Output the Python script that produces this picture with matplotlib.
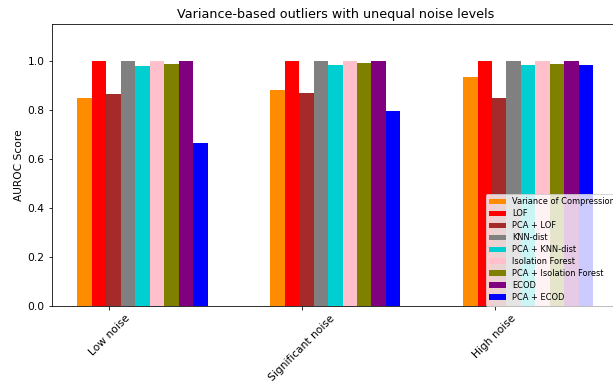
import matplotlib.pyplot as plt
import numpy as np

noise_levels = ["Low noise", "Significant noise", "High noise"]
methods = [
    "Variance of Compression",
    "LOF",
    "PCA + LOF",
    "KNN-dist",
    "PCA + KNN-dist",
    "Isolation Forest",
    "PCA + Isolation Forest",
    "ECOD",
    "PCA + ECOD",
]
colors = ["darkorange", "red", "brown", "gray", "darkturquoise",
          "pink", "olive", "purple", "blue"]

# AUROC per method, one value per noise level
scores = {
    "Variance of Compression": [0.849, 0.879, 0.933],
    "LOF": [1.0, 1.0, 1.0],
    "PCA + LOF": [0.864, 0.868, 0.849],
    "KNN-dist": [1.0, 1.0, 1.0],
    "PCA + KNN-dist": [0.977, 0.984, 0.984],
    "Isolation Forest": [1.0, 1.0, 1.0],
    "PCA + Isolation Forest": [0.988, 0.990, 0.988],
    "ECOD": [1.0, 1.0, 1.0],
    "PCA + ECOD": [0.665, 0.796, 0.984],
}

plt.rcParams["font.size"] = 10.6

x = np.arange(len(noise_levels))
width = 0.075

fig = plt.figure(figsize=(613 / 72, 383 / 72), dpi=72)
ax = fig.add_axes([51.7 / 613, 1 - 306 / 383, (619 - 51.7) / 613, (306 - 24) / 383])

for k, (name, col) in enumerate(zip(methods, colors)):
    ax.bar(x + k * width, scores[name], width, label=name, color=col)

ax.set_xticks(x + 1.7 * width)
ax.set_xticklabels(noise_levels, rotation=45)
ax.set_ylim(0, 1.15)
ax.set_ylabel("AUROC Score")
ax.set_title("Variance-based outliers with unequal noise levels")
ax.legend(loc="lower right", fontsize=8.3, labelspacing=0.36, borderaxespad=0.05)

fig.savefig("out.png", dpi=72)
